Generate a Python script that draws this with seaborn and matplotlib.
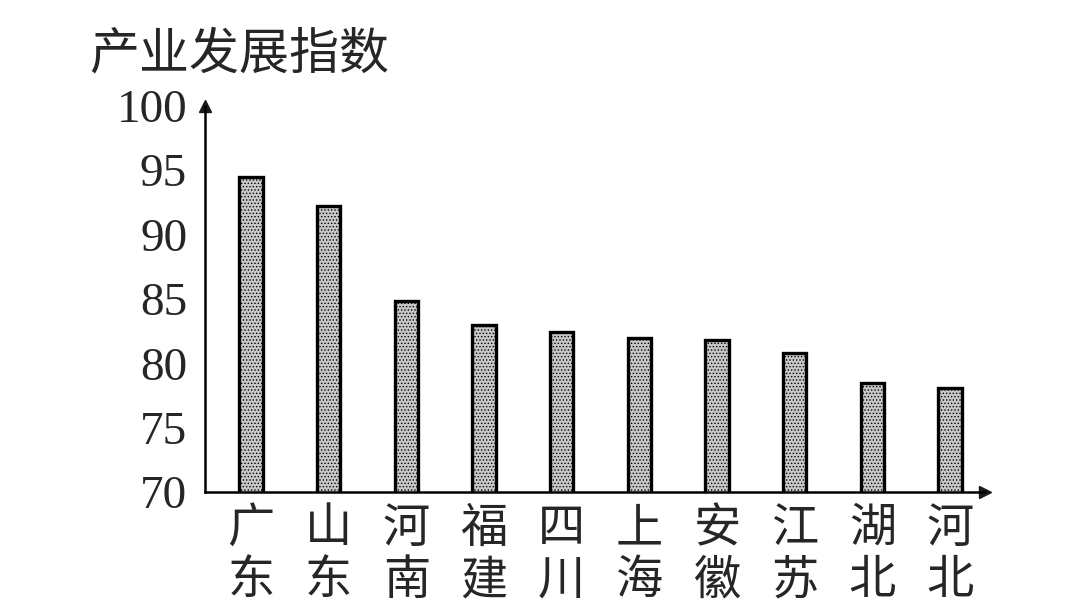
import matplotlib
matplotlib.use("Agg")
import matplotlib.pyplot as plt
import seaborn as sns
import pandas as pd

# provinces and their industry development index
provinces = ["广东", "山东", "河南", "福建", "四川", "上海", "安徽", "江苏", "湖北", "河北"]
index_values = [94.5, 92.2, 84.8, 83.0, 82.4, 82.0, 81.8, 80.8, 78.5, 78.1]
y_ticks = [70, 75, 80, 85, 90, 95, 100]

sns.set_theme(style="white")
plt.rcParams['font.family'] = ['Noto Sans CJK SC', 'DejaVu Sans']
plt.rcParams['hatch.linewidth'] = 0.6

df = pd.DataFrame({
    'province': ["\n".join(p) for p in provinces],
    'value': index_values,
})

fig = plt.figure(figsize=(10.8, 6.15), dpi=100)
ax = fig.add_axes([0.19, 0.2, 0.722, 0.628])

sns.barplot(data=df, x='province', y='value', ax=ax, width=0.3,
            color='#c8c8c8', edgecolor='black', linewidth=2.4)
for bar in ax.patches:
    bar.set_hatch('.....')

ax.set_xlim(-0.59, 9.45)
ax.set_ylim(70, 100)
ax.set_yticks(y_ticks)
ax.set_yticklabels([str(t) for t in y_ticks], family='Liberation Serif', fontsize=34)
ax.tick_params(axis='y', length=0, pad=13)
ax.tick_params(axis='x', length=0, pad=9, labelsize=34)
for lab in ax.get_xticklabels():
    lab.set_linespacing(1.1)
ax.set_xlabel("")
ax.set_ylabel("")

# only left/bottom spines with arrow heads
for side in ['top', 'right']:
    ax.spines[side].set_visible(False)
for side in ['left', 'bottom']:
    ax.spines[side].set_color('black')
    ax.spines[side].set_linewidth(1.8)
ax.plot(1, 70, ">k", markersize=9, transform=ax.get_yaxis_transform(), clip_on=False)
ax.plot(-0.59, 1, "^k", markersize=9, transform=ax.get_xaxis_transform(), clip_on=False)

fig.text(0.083, 0.912, "产业发展指数", fontsize=36, va='center', ha='left')

plt.savefig("out.png", dpi=100)
